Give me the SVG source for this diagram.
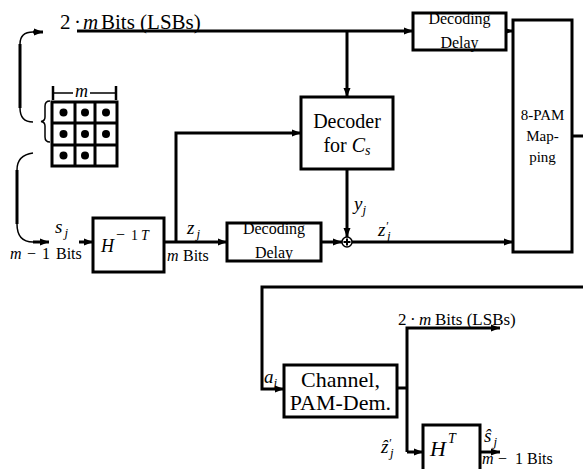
<svg xmlns="http://www.w3.org/2000/svg" width="583" height="469" viewBox="0 0 583 469">
<style>
.box{fill:#fff;stroke:#000;stroke-width:3}
.ln{fill:none;stroke:#000;stroke-width:3}
.thin{fill:none;stroke:#000;stroke-width:1.5}
text{font-family:"Liberation Serif","Times New Roman",serif;fill:#000}
.it{font-style:italic}
.c{text-anchor:middle}
</style>
<defs>
<marker id="ah" markerUnits="userSpaceOnUse" markerWidth="10" markerHeight="8" refX="9" refY="4" orient="auto">
<path d="M0,0.5 L9,4 L0,7.5 Z" fill="#000"/>
</marker>
</defs>
<g id="connectors">
<path class="ln" d="M77,31 H413" marker-end="url(#ah)"/>
<path class="ln" d="M347,31 V97" marker-end="url(#ah)"/>
<path class="ln" d="M506,31 H513" marker-end="url(#ah)"/>
<path class="ln" d="M164,242 H227" marker-end="url(#ah)"/>
<path class="ln" d="M176,242 V133 H301" marker-end="url(#ah)"/>
<path class="ln" d="M347,169 V237" marker-end="url(#ah)"/>
<path class="ln" d="M321,242 H342" marker-end="url(#ah)"/>
<path class="ln" d="M352,242 H513" marker-end="url(#ah)"/>
<path class="ln" d="M572,136 H583"/>
<path class="ln" d="M583,287 H262 V389 H284" marker-end="url(#ah)"/>
<path class="ln" d="M397,388 H407"/>
<path class="ln" d="M407,452 V328 H500" marker-end="url(#ah)"/>
<path class="ln" d="M407,452 H423" marker-end="url(#ah)"/>
<path class="ln" d="M480,452 H500" marker-end="url(#ah)"/>
<path class="thin" d="M33,122 Q20,122 20,108"/>
<path class="ln" d="M20,108 V44"/>
<path class="thin" d="M20,44 Q20,32 33,32"/>
<path class="ln" d="M33,32 H43" marker-end="url(#ah)"/>
<path class="thin" d="M33,153 Q17,155 17,170"/>
<path class="ln" d="M17,170 V224"/>
<path class="thin" d="M17,224 Q17,242 33,242"/>
<path class="ln" d="M33,242 H49" marker-end="url(#ah)"/>
<path class="ln" d="M79,242 H93" marker-end="url(#ah)"/>
</g>
<g id="adder">
<circle cx="347" cy="242" r="5" fill="#fff" stroke="#000" stroke-width="1.5"/>
<path d="M347,238.5 V245.5 M343.5,242 H350.5" stroke="#000" stroke-width="2"/>
</g>
<g id="matrix">
<rect x="52" y="102" width="65" height="64" fill="#fff" stroke="#000" stroke-width="3"/>
<path class="ln" d="M75,102 V166 M95,102 V166 M52,123 H117 M52,145 H117"/>
<g fill="#000">
<circle cx="63.5" cy="112.5" r="4"/><circle cx="85" cy="112.5" r="4"/><circle cx="106" cy="112.5" r="4"/>
<circle cx="63.5" cy="134" r="4"/><circle cx="85" cy="134" r="4"/><circle cx="106" cy="134" r="4"/>
<circle cx="63.5" cy="155.5" r="4"/><circle cx="85" cy="155.5" r="4"/>
</g>
<path d="M53,86 V100 M116,86 V100" stroke="#000" stroke-width="2.5"/>
<path d="M53,93 H73 M90,93 H116" stroke="#000" stroke-width="1.5"/>
<text x="81.5" y="97" class="it c" font-size="18">m</text>
<path class="thin" d="M50,101 Q45,101 45,106 L45,117 Q45,121 41,121.5 Q45,122 45,126 L45,137 Q45,142 50,142"/>
</g>
<g id="lsb-top">
<text y="29" font-size="21"><tspan x="60">2</tspan><tspan x="74">·</tspan><tspan x="83" class="it">m</tspan><tspan x="101">Bits (LSBs)</tspan></text>
</g>
<g id="h-inv">
<rect class="box" x="93" y="218" width="71" height="54"/>
<text x="101" y="252" class="it" font-size="18">H</text>
<text y="240" font-size="16"><tspan x="116">−</tspan><tspan x="131" font-size="14">1</tspan><tspan x="141" class="it" font-size="14">T</tspan></text>
</g>
<g id="delay-top">
<rect class="box" x="413" y="13" width="93" height="37"/>
<text x="459.5" y="24" class="c" font-size="16">Decoding</text>
<text x="459.5" y="48" class="c" font-size="16">Delay</text>
</g>
<g id="decoder">
<rect class="box" x="301" y="97" width="92" height="72"/>
<text x="347" y="128" class="c" font-size="20">Decoder</text>
<text x="347" y="152" class="c" font-size="20">for <tspan class="it">C</tspan><tspan class="it" font-size="14" dy="3">s</tspan></text>
</g>
<g id="delay-bottom">
<rect class="box" x="227" y="223" width="94" height="38"/>
<text x="274" y="234" class="c" font-size="16">Decoding</text>
<text x="274" y="258" class="c" font-size="16">Delay</text>
</g>
<g id="pam-map">
<rect class="box" x="513" y="20" width="59" height="232"/>
<text x="542.5" y="120" class="c" font-size="15">8-PAM</text>
<text x="542.5" y="141" class="c" font-size="15">Map-</text>
<text x="542.5" y="162" class="c" font-size="15">ping</text>
</g>
<g id="channel">
<rect class="box" x="284" y="365" width="113" height="52"/>
<text x="340.5" y="387" class="c" font-size="22">Channel,</text>
<text x="340.5" y="410" class="c" font-size="22">PAM-Dem.</text>
</g>
<g id="h-t">
<rect class="box" x="423" y="425" width="57" height="60"/>
<text x="430" y="456" class="it" font-size="22">H</text>
<text x="448" y="443" class="it" font-size="14">T</text>
</g>
<g id="labels">
<text x="55" y="233" class="it" font-size="19">s<tspan font-size="13" dx="2" dy="4">j</tspan></text>
<text y="259" font-size="16"><tspan x="10" class="it">m</tspan><tspan x="27">−</tspan><tspan x="42">1</tspan><tspan x="56">Bits</tspan></text>
<text x="187" y="234" class="it" font-size="19">z<tspan font-size="13" dx="2" dy="4">j</tspan></text>
<text y="261" font-size="16"><tspan x="167" class="it">m</tspan><tspan x="183">Bits</tspan></text>
<text x="354" y="210" class="it" font-size="19">y<tspan font-size="13" dy="4">j</tspan></text>
<text x="378" y="236" class="it" font-size="19">z<tspan font-size="12" dy="-6">′</tspan><tspan font-size="13" dx="-1" dy="10">j</tspan></text>
<text x="264" y="383" class="it" font-size="19">a<tspan font-size="13" dy="4">j</tspan></text>
<text y="325" font-size="17"><tspan x="398">2</tspan><tspan x="410">·</tspan><tspan x="419" class="it">m</tspan><tspan x="435">Bits (LSBs)</tspan></text>
<text x="381" y="453" class="it" font-size="19">ẑ<tspan font-size="12" dy="-6">′</tspan><tspan font-size="13" dx="-1" dy="10">j</tspan></text>
<text x="484" y="442" class="it" font-size="19">ŝ<tspan font-size="13" dx="2" dy="4">j</tspan></text>
<text y="464" font-size="16"><tspan x="482" class="it">m</tspan><tspan x="498">−</tspan><tspan x="515">1</tspan><tspan x="527">Bits</tspan></text>
</g>
</svg>
